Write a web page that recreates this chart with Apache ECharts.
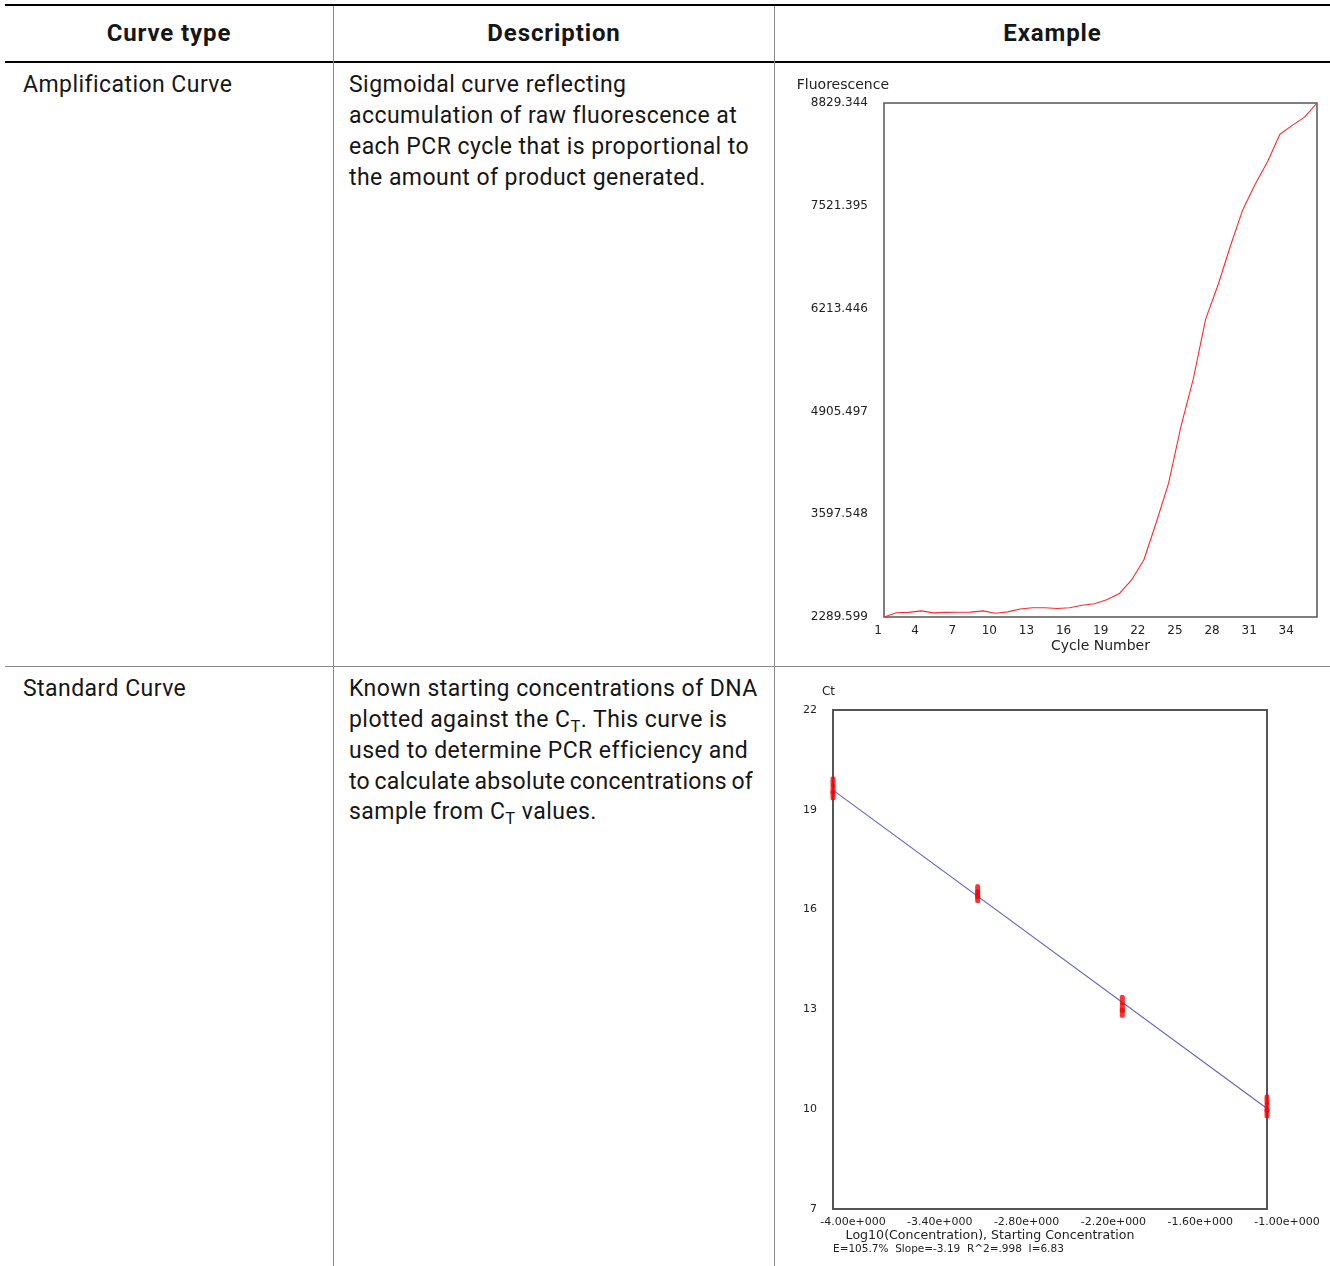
<!DOCTYPE html>
<html>
<head>
<meta charset="utf-8">
<script src="https://cdn.jsdelivr.net/npm/echarts@6/dist/echarts.min.js"></script>
<style>
  html, body { margin: 0; padding: 0; background: #fff; }
  body { width: 1330px; height: 1266px; position: relative; overflow: hidden; font-family: Roboto, "Noto Sans", sans-serif; color: #161616; }
  .ln { position: absolute; }
  .hd { position: absolute; top: 5px; height: 56px; line-height: 56px; text-align: center; font-weight: bold; font-size: 24px; letter-spacing: 0.9px; }
  .tx { position: absolute; font-size: 23px; line-height: 30.8px; white-space: nowrap; letter-spacing: 0.45px; }
  .tight { word-spacing: -1.5px; letter-spacing: 0.3px; }
  sub { font-size: 0.72em; vertical-align: -0.3em; line-height: 0; }
  #chart { position: absolute; left: 0; top: 0; width: 1330px; height: 1266px; z-index: 2; }
</style>
</head>
<body>
<div class="ln" style="left:5px;top:4px;width:1325px;height:2px;background:#000"></div>
<div class="ln" style="left:5px;top:61px;width:1325px;height:2px;background:#000"></div>
<div class="ln" style="left:333px;top:6px;width:1px;height:1260px;background:#8a8a8a"></div>
<div class="ln" style="left:774px;top:6px;width:1px;height:1260px;background:#8a8a8a"></div>
<div class="ln" style="left:5px;top:666px;width:1325px;height:1px;background:#8a8a8a"></div>

<div class="hd" style="left:5px;width:328px">Curve type</div>
<div class="hd" style="left:334px;width:440px">Description</div>
<div class="hd" style="left:775px;width:555px">Example</div>

<div class="tx" style="left:23px;top:70.2px">Amplification Curve</div>
<div class="tx" style="left:349px;top:70.2px">Sigmoidal curve reflecting<br>accumulation of raw fluorescence at<br>each PCR cycle that is proportional to<br>the amount of product generated.</div>

<div class="tx" style="left:23px;top:674.2px">Standard Curve</div>
<div class="tx" style="left:349px;top:674.2px">Known starting concentrations of DNA<br>plotted against the C<sub>T</sub>. This curve is<br>used to determine PCR efficiency and<br><span class="tight">to calculate absolute concentrations of</span><br>sample from C<sub>T</sub> values.</div>

<div id="chart"></div>
<script>
// ---- Amplification curve data ----
const cycles = [1,2,3,4,5,6,7,8,9,10,11,12,13,14,15,16,17,18,19,20,21,22,23,24,25,26,27,28,29,30,31,32,33,34,35,36];
const fluorescence = [2289.6,2344,2349,2368,2342,2349,2350,2352,2368,2337,2355,2392,2408,2408,2398,2408,2440,2458,2508,2585,2758,3015,3489,3990,4711,5320,6080,6514,7010,7472,7795,8082,8431,8545,8650,8829.344];
const ampYTicks = [2289.599, 3597.548, 4905.497, 6213.446, 7521.395, 8829.344];
const ampXTicks = [1,4,7,10,13,16,19,22,25,28,31,34];

// ---- Standard curve data ----
const logConc = [-4,-4,-4,-3,-3,-3,-2,-2,-2,-1,-1,-1];
const ctValues = [19.44,19.62,19.85,16.35,16.46,16.61,12.90,13.05,13.28,9.88,10.05,10.29];
const fitLogConc = [-4, -1];
const fitCt = [19.59, 10.02];
const stdXTicks = [-4.0,-3.4,-2.8,-2.2,-1.6,-1.0];
const stdYTicks = [7,10,13,16,19,22];
const stdStats = 'E=105.7%  Slope=-3.19  R^2=.998  I=6.83';

const chart = echarts.init(document.getElementById('chart'), null, {renderer: 'canvas'});
const axFont = 'DejaVu Sans';
const labCol = '#222';

const ampSeries = cycles.map((c, i) => [c, fluorescence[i]]);
const stdPoints = logConc.map((x, i) => [x, ctValues[i]]);
const fitLine = fitLogConc.map((x, i) => [x, fitCt[i]]);

chart.setOption({
  animation: false,
  grid: [
    {left: 884, top: 103, width: 433, height: 514, show: true, borderColor: '#555', borderWidth: 1.5, backgroundColor: 'transparent'},
    {left: 833, top: 710, width: 434, height: 499, show: true, borderColor: '#555', borderWidth: 2, backgroundColor: 'transparent'}
  ],
  xAxis: [
    {
      gridIndex: 0, type: 'value', min: 1, max: 36,
      axisLine: {show: false}, axisTick: {show: false}, splitLine: {show: false},
      axisLabel: {customValues: ampXTicks, fontFamily: axFont, fontSize: 12, color: labCol, margin: 8, padding: [0, 12, 0, 0]},
      name: 'Cycle Number', nameLocation: 'middle', nameGap: 22,
      nameTextStyle: {fontFamily: axFont, fontSize: 14, color: labCol}
    },
    {
      gridIndex: 1, type: 'value', min: -4, max: -1,
      axisLine: {show: false}, axisTick: {show: false}, splitLine: {show: false},
      axisLabel: {customValues: stdXTicks, fontFamily: axFont, fontSize: 11, color: labCol, margin: 8, padding: [0, 0, 0, 40],
        formatter: v => v.toFixed(2) + 'e+000'},
      name: 'Log10(Concentration), Starting Concentration', nameLocation: 'middle', nameGap: 20,
      nameTextStyle: {fontFamily: axFont, fontSize: 12.6, color: labCol, padding: [0, 120, 0, 0]}
    }
  ],
  yAxis: [
    {
      gridIndex: 0, type: 'value', min: 2289.599, max: 8829.344,
      axisLine: {show: false}, axisTick: {show: false}, splitLine: {show: false},
      axisLabel: {customValues: ampYTicks, fontFamily: axFont, fontSize: 12, color: labCol, margin: 16,
        formatter: v => v.toFixed(3)},
      name: 'Fluorescence', nameLocation: 'end', nameGap: 18,
      nameTextStyle: {fontFamily: axFont, fontSize: 14, color: labCol, align: 'right', verticalAlign: 'middle', padding: [0, -5, 0, 0]}
    },
    {
      gridIndex: 1, type: 'value', min: 7, max: 22,
      axisLine: {show: false}, axisTick: {show: false}, splitLine: {show: false},
      axisLabel: {customValues: stdYTicks, fontFamily: axFont, fontSize: 11, color: labCol, margin: 16},
      name: 'Ct', nameLocation: 'end', nameGap: 18,
      nameTextStyle: {fontFamily: axFont, fontSize: 12, color: labCol, align: 'right', verticalAlign: 'middle', padding: [0, -2, 0, 0]}
    }
  ],
  graphic: [
    {type: 'text', left: 833, top: 1244, style: {text: stdStats, fontFamily: axFont, fontSize: 10.5, fill: labCol}}
  ],
  series: [
    {type: 'line', xAxisIndex: 0, yAxisIndex: 0, data: ampSeries, showSymbol: false, symbol: 'none',
      lineStyle: {color: '#ff2a2a', width: 1.1}, clip: false},
    {type: 'line', xAxisIndex: 1, yAxisIndex: 1, data: fitLine, showSymbol: false, symbol: 'none',
      lineStyle: {color: '#6262c4', width: 1.1}},
    {type: 'scatter', xAxisIndex: 1, yAxisIndex: 1, data: stdPoints, symbol: 'roundRect', symbolSize: [5, 10],
      itemStyle: {color: '#ff0000'}, clip: false, z: 3}
  ]
});
</script>
</body>
</html>
